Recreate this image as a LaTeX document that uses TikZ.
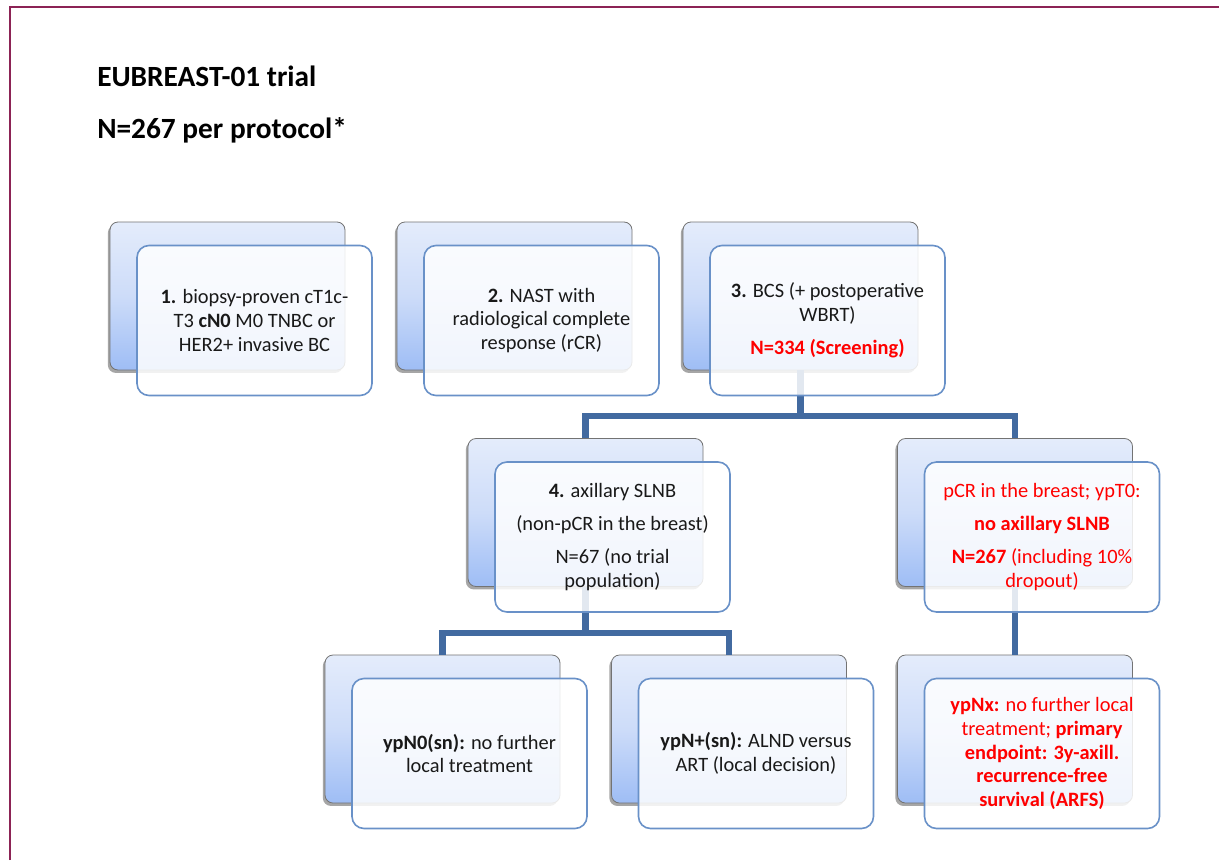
\documentclass[tikz,border=0pt]{standalone}
\usepackage{fontspec}
\setmainfont{Carlito}
\usetikzlibrary{calc,shadows}
\definecolor{framecol}{RGB}{140,35,85}
\definecolor{conncol}{RGB}{66,106,160}
\definecolor{bbtop}{RGB}{228,236,251}
\definecolor{bbmid}{RGB}{205,220,249}
\definecolor{bbbot}{RGB}{158,189,245}
\definecolor{fbdraw}{RGB}{105,145,200}
\definecolor{txt}{RGB}{25,25,25}
\definecolor{redtxt}{RGB}{255,0,0}
\tikzset{
  backbox/.style={rectangle, rounded corners=6pt, draw=black!55, line width=0.6pt,
    top color=bbtop, bottom color=bbbot, middle color=bbmid,
    minimum width=235*0.75pt, minimum height=148*0.75pt, inner sep=0pt,
    drop shadow={shadow xshift=-1.6pt, shadow yshift=-2.2pt, opacity=0.35, fill=black}},
  frontbox/.style={rectangle, rounded corners=9pt, draw=fbdraw, line width=1.2pt,
    fill=white, fill opacity=0.85, text opacity=1, text=txt,
    minimum width=235*0.75pt, minimum height=150*0.75pt, inner sep=0pt,
    align=center, font=\fontsize{15.3}{17.8}\selectfont},
  conn/.style={draw=conncol, line width=4.6pt, line join=miter},
  titletext/.style={anchor=base west, inner sep=0pt, text=black,
    font=\fontsize{22}{26}\selectfont\bfseries},
  framestyle/.style={draw=framecol, line width=1.6pt}
}
\begin{document}
\begin{tikzpicture}[x=0.75pt,y=-0.75pt]
\useasboundingbox (0,0) rectangle (1219,860);
\fill[white] (0,0) rectangle (1219,860);
% frame
\draw[framestyle] (10,860) -- (10,7) -- (1219,7);
% title
\node[titletext] (t1) at (97,86) {EUBREAST-01 trial};
\node[titletext] (t2) at (97,138) {N=267 per protocol*};
% back boxes
\node[backbox] (b1) at (227.5,296) {};
\node[backbox] (b2) at (514.5,296) {};
\node[backbox] (b3) at (800.5,296) {};
\node[backbox] (b4) at (585.5,512.5) {};
\node[backbox] (b5) at (1015,512.5) {};
\node[backbox] (b6) at (442.5,729) {};
\node[backbox] (b7) at (729,729) {};
\node[backbox] (b8) at (1015,729) {};
% junctions
\coordinate (j1) at (800.5,416);
\coordinate (j2) at (585.5,633);
% connectors
\draw[conn] (b3.south) -- (j1);
\draw[conn] (b4.north) |- (j1) -| (b5.north);
\draw[conn] (b4.south) -- (j2);
\draw[conn] (b6.north) |- (j2) -| (b7.north);
\draw[conn] (b5.south) -- (b8.north);
% front boxes
\node[frontbox] (f1) at ($(b1)+(27,24.5)$) {\textbf{1.} biopsy-proven cT1c-\\T3 \textbf{cN0} M0 TNBC or\\HER2+ invasive BC};
\node[frontbox] (f2) at ($(b2)+(27,24.5)$) {\textbf{2.} NAST with\\radiological complete\\response (rCR)};
\node[frontbox] (f3) at ($(b3)+(27,24.5)$) {\textbf{3.} BCS (+ postoperative\\WBRT)\\[7pt]\textcolor{redtxt}{\textbf{N=334 (Screening)}}};
\node[frontbox] (f4) at ($(b4)+(27,24.5)$) {\textbf{4.} axillary SLNB\\[7pt](non-pCR in the breast)\\[7pt]N=67 (no trial\\population)};
\node[frontbox, text=redtxt] (f5) at ($(b5)+(27,24.5)$) {pCR in the breast; ypT0:\\[7pt]\textbf{no axillary SLNB}\\[7pt]\textbf{N=267} (including 10\%\\dropout)};
\node[frontbox] (f6) at ($(b6)+(27,24.5)$) {\textbf{ypN0(sn):} no further\\local treatment};
\node[frontbox] (f7) at ($(b7)+(27,24.5)$) {\textbf{ypN+(sn):} ALND versus\\ART (local decision)};
\node[frontbox, text=redtxt] (f8) at ($(b8)+(27,24.5)$) {\textbf{ypNx:} no further local\\treatment; \textbf{primary}\\\textbf{endpoint: 3y-axill.}\\\textbf{recurrence-free}\\\textbf{survival (ARFS)}};
\end{tikzpicture}
\end{document}
